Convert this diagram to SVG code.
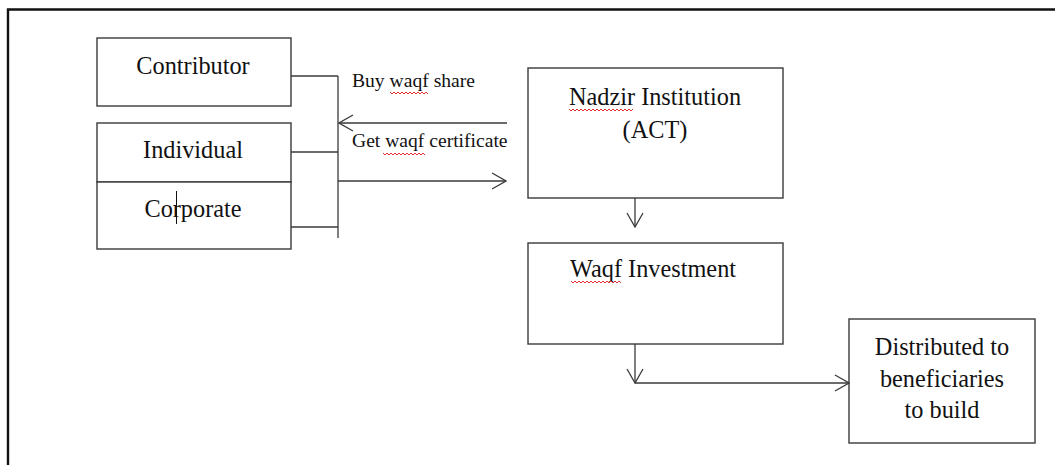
<svg xmlns="http://www.w3.org/2000/svg" width="1055" height="465" viewBox="0 0 1055 465">
<defs>
<style>
.box{fill:#fff;stroke:#3a3a3a;stroke-width:1.4}
.ln{fill:none;stroke:#3a3a3a;stroke-width:1.3}
.t{font-family:"Liberation Serif","Times New Roman",serif;font-size:24.3px;fill:#111}
.s{font-family:"Liberation Serif","Times New Roman",serif;font-size:19.6px;fill:#111}
.sq{fill:none;stroke:#e03030;stroke-width:1}
</style>
<marker id="ah" viewBox="0 0 16 18" refX="15" refY="9" markerWidth="16" markerHeight="18" markerUnits="userSpaceOnUse" orient="auto">
<path d="M1,1 L15,9 L1,17" fill="none" stroke="#3a3a3a" stroke-width="1.3"/>
</marker>
</defs>
<rect width="1055" height="465" fill="#fff"/>
<g id="frame"><path d="M8,470 L8,9.5 L1060,9.5" fill="none" stroke="#111" stroke-width="2.4"/></g>

<g id="contributor">
<rect class="box" x="97" y="38" width="194" height="68"/>
<text class="t" x="193" y="74" text-anchor="middle">Contributor</text>
</g>
<g id="individual">
<rect class="box" x="97" y="123" width="194" height="59"/>
<text class="t" x="193" y="158" text-anchor="middle">Individual</text>
</g>
<g id="corporate">
<rect class="box" x="97" y="182" width="194" height="67"/>
<text class="t" x="193" y="217" text-anchor="middle">Corporate</text>
<line x1="176.5" y1="191" x2="176.5" y2="224" stroke="#111" stroke-width="1"/>
</g>
<g id="nadzir">
<rect class="box" x="528" y="68" width="255" height="130"/>
<text class="t" x="655" y="105" text-anchor="middle">Nadzir Institution</text>
<text class="t" x="655" y="138" text-anchor="middle">(ACT)</text>
<path class="sq" d="M569,109 l2,2 l2,-2 l2,2 l2,-2 l2,2 l2,-2 l2,2 l2,-2 l2,2 l2,-2 l2,2 l2,-2 l2,2 l2,-2 l2,2 l2,-2 l2,2 l2,-2 l2,2 l2,-2 l2,2 l2,-2 l2,2 l2,-2 l2,2 l2,-2 l2,2 l2,-2 l2,2 l2,-2 l2,2 l2,-2"/>
</g>
<g id="investment">
<rect class="box" x="528" y="243" width="255" height="101"/>
<text class="t" x="570" y="277">Waqf Investment</text>
<path class="sq" d="M571,281 l2,2 l2,-2 l2,2 l2,-2 l2,2 l2,-2 l2,2 l2,-2 l2,2 l2,-2 l2,2 l2,-2 l2,2 l2,-2 l2,2 l2,-2 l2,2 l2,-2 l2,2 l2,-2 l2,2 l2,-2 l2,2 l2,-2 l2,2"/>
</g>
<g id="distributed">
<rect class="box" x="849" y="319" width="186" height="124"/>
<text class="t" x="942" y="355" text-anchor="middle">Distributed to</text>
<text class="t" x="942" y="387" text-anchor="middle">beneficiaries</text>
<text class="t" x="942" y="418" text-anchor="middle">to build</text>
</g>

<g id="connectors">
<path class="ln" d="M291,76 H338"/>
<path class="ln" d="M291,152 H338"/>
<path class="ln" d="M291,227 H338"/>
<path class="ln" d="M338,76 V238"/>
<path class="ln" d="M507,123 H339" marker-end="url(#ah)"/>
<path class="ln" d="M338,181 H506" marker-end="url(#ah)"/>
<path class="ln" d="M635,198 V227" marker-end="url(#ah)"/>
<path class="ln" d="M635,344 V383" marker-end="url(#ah)"/>
<path class="ln" d="M635,383 H849" marker-end="url(#ah)"/>
</g>

<g id="labels">
<text class="s" x="352" y="87">Buy waqf share</text>
<path class="sq" d="M390,92 l2,2 l2,-2 l2,2 l2,-2 l2,2 l2,-2 l2,2 l2,-2 l2,2 l2,-2 l2,2 l2,-2 l2,2 l2,-2 l2,2 l2,-2 l2,2 l2,-2 l2,2"/>
<text class="s" x="352" y="147">Get waqf certificate</text>
<path class="sq" d="M383,153 l2,2 l2,-2 l2,2 l2,-2 l2,2 l2,-2 l2,2 l2,-2 l2,2 l2,-2 l2,2 l2,-2 l2,2 l2,-2 l2,2 l2,-2 l2,2 l2,-2 l2,2 l2,-2 l2,2"/>
</g>
</svg>
